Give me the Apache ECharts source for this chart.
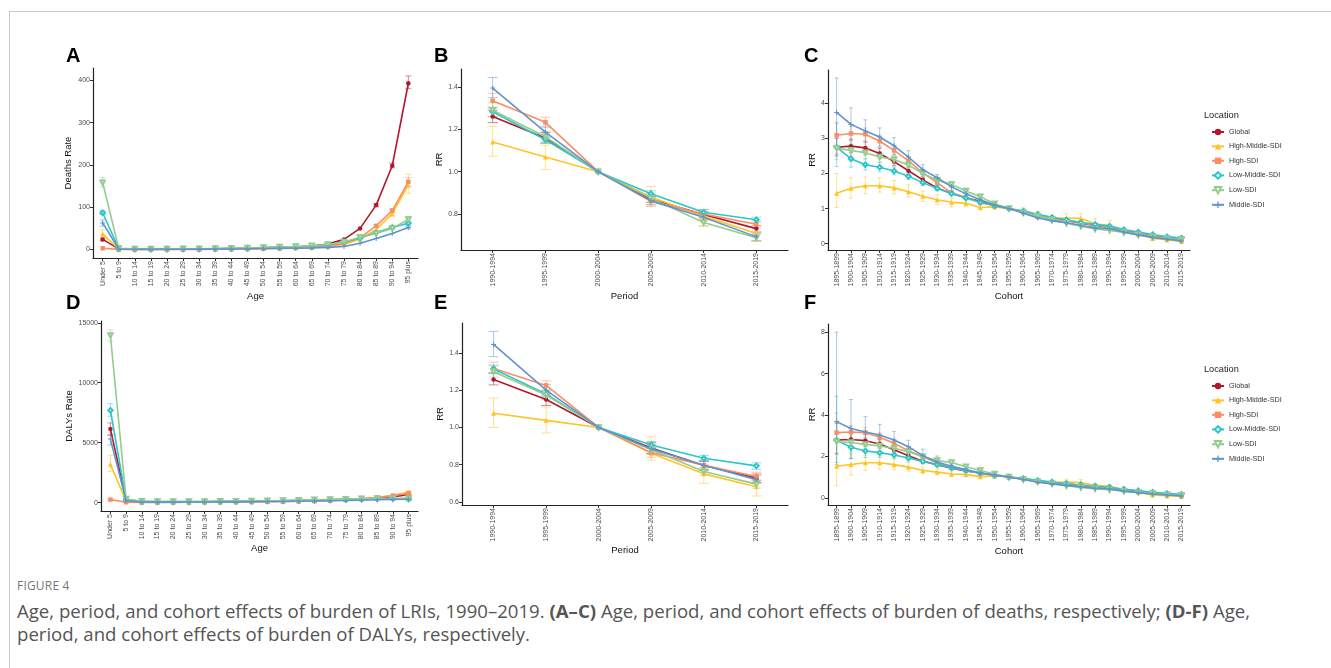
<!DOCTYPE html>
<html>
<head>
<meta charset="utf-8">
<script src="https://cdn.jsdelivr.net/npm/echarts@6/dist/echarts.min.js"></script>
<style>
html, body { margin: 0; padding: 0; background: #fff; }
#wrap { position: relative; width: 1331px; height: 668px; overflow: hidden; }
.frame { position: absolute; left: 9px; top: 11px; right: -2px; bottom: -2px; border-top: 1px solid #c8c8c8; border-left: 1px solid #c8c8c8; }
#chart { position: absolute; left: 0; top: 0; width: 1331px; height: 565px; }
#caption { position: absolute; left: 17px; top: 577px; width: 1275px; font-family: "Open Sans", "Noto Sans", sans-serif; color: #555; }
#caption .fig { font-size: 12px; color: #777; letter-spacing: 0.2px; margin-bottom: 5px; }
#caption .txt { font-size: 18.6px; line-height: 23px; }
</style>
</head>
<body>
<div id="wrap">
  <div class="frame"></div>
  <div id="chart"></div>
  <div id="caption">
    <div class="fig">FIGURE 4</div>
    <div class="txt">Age, period, and cohort effects of burden of LRIs, 1990–2019. <b>(A–C)</b> Age, period, and cohort effects of burden of deaths, respectively; <b>(D-F)</b> Age, period, and cohort effects of burden of DALYs, respectively.</div>
  </div>
</div>
<script>
// 地区 / 颜色
var locations = ['Global', 'High-Middle-SDI', 'High-SDI', 'Low-Middle-SDI', 'Low-SDI', 'Middle-SDI'];
var colors = ['#B2182B', '#FFC425', '#FC8D62', '#2CC6C9', '#94CC8F', '#5E95D0'];

var ageGroups = ['Under 5', '5 to 9', '10 to 14', '15 to 19', '20 to 24', '25 to 29', '30 to 34', '35 to 39',
    '40 to 44', '45 to 49', '50 to 54', '55 to 59', '60 to 64', '65 to 69', '70 to 74', '75 to 79',
    '80 to 84', '85 to 89', '90 to 94', '95 plus'];
var periods = ['1990-1994', '1995-1999', '2000-2004', '2005-2009', '2010-2014', '2015-2019'];
var cohorts = ['1895-1899', '1900-1904', '1905-1909', '1910-1914', '1915-1919', '1920-1924', '1925-1929',
    '1930-1934', '1935-1939', '1940-1944', '1945-1949', '1950-1954', '1955-1959', '1960-1964', '1965-1969',
    '1970-1974', '1975-1979', '1980-1984', '1985-1989', '1990-1994', '1995-1999', '2000-2004', '2005-2009',
    '2010-2014', '2015-2019'];

// A: deaths rate by age (rows follow locations)
var ageDeaths = [
    [24, 1.5, 0.8, 0.8, 1, 1.2, 1.5, 2, 2.5, 3, 4, 5, 6, 8, 13, 24, 50, 105, 198, 393],
    [37, 0.8, 0.4, 0.4, 0.5, 0.6, 0.8, 1, 1.3, 1.8, 2.5, 3, 4, 5, 7, 12, 25, 47, 85, 152],
    [3, 0.3, 0.2, 0.2, 0.3, 0.4, 0.5, 0.7, 1, 1.4, 2, 3, 4, 5, 8, 14, 28, 56, 92, 160],
    [87, 2, 1, 1, 1.2, 1.5, 1.8, 2.2, 2.8, 3.5, 4.5, 5.5, 6.5, 8, 11, 18, 27, 40, 52, 62],
    [158, 3, 1.5, 1.2, 1.3, 1.6, 2, 2.5, 3, 3.8, 4.8, 6, 7, 9, 12, 18, 29, 38, 50, 71],
    [63, 1.2, 0.6, 0.5, 0.6, 0.7, 0.9, 1.1, 1.4, 1.8, 2.3, 2.8, 3.2, 3.8, 5, 7, 15, 26, 38, 52]
];
// [location, category, lower, upper]
var ageDeathsErr = [
    [0, 0, 21, 27], [0, 17, 101, 108], [0, 18, 193, 204], [0, 19, 380, 410],
    [1, 0, 30, 47], [1, 17, 42, 52], [1, 18, 78, 95], [1, 19, 133, 178],
    [2, 17, 52, 59], [2, 18, 88, 96], [2, 19, 150, 170],
    [3, 0, 83, 92], [3, 18, 49, 55], [3, 19, 57, 67],
    [4, 0, 148, 170], [4, 18, 47, 53], [4, 19, 64, 78],
    [5, 0, 55, 70], [5, 19, 49, 55]
];

// B: period RR, deaths
var periodDeaths = [
    [1.261, 1.159, 1.0, 0.871, 0.798, 0.731],
    [1.140, 1.069, 1.0, 0.880, 0.790, 0.708],
    [1.335, 1.233, 1.0, 0.860, 0.800, 0.752],
    [1.283, 1.151, 1.0, 0.896, 0.808, 0.773],
    [1.290, 1.165, 1.0, 0.875, 0.760, 0.688],
    [1.395, 1.187, 1.0, 0.862, 0.785, 0.692]
];
var periodDeathsErr = [
    [0, 0, 1.232, 1.29], [0, 1, 1.135, 1.185], [0, 3, 0.855, 0.885], [0, 4, 0.785, 0.81], [0, 5, 0.715, 0.745],
    [1, 0, 1.073, 1.213], [1, 1, 1.01, 1.125], [1, 3, 0.84, 0.93], [1, 4, 0.74, 0.82], [1, 5, 0.67, 0.745],
    [2, 0, 1.30, 1.37], [2, 1, 1.208, 1.258], [2, 3, 0.835, 0.88], [2, 4, 0.78, 0.82], [2, 5, 0.735, 0.77],
    [3, 0, 1.26, 1.305], [3, 1, 1.135, 1.165], [3, 3, 0.88, 0.91], [3, 4, 0.795, 0.822], [3, 5, 0.762, 0.785],
    [4, 0, 1.26, 1.325], [4, 1, 1.14, 1.19], [4, 3, 0.855, 0.895], [4, 4, 0.745, 0.775], [4, 5, 0.672, 0.705],
    [5, 0, 1.35, 1.445], [5, 1, 1.16, 1.215], [5, 3, 0.845, 0.88], [5, 4, 0.77, 0.8], [5, 5, 0.675, 0.71]
];

// C: cohort RR, deaths
var cohortDeaths = [
    [2.75, 2.78, 2.73, 2.57, 2.34, 2.08, 1.82, 1.59, 1.43, 1.31, 1.21, 1.10, 1.00, 0.90, 0.79, 0.71, 0.66, 0.58, 0.52, 0.47, 0.38, 0.31, 0.22, 0.16, 0.11],
    [1.44, 1.58, 1.65, 1.65, 1.59, 1.48, 1.35, 1.25, 1.18, 1.15, 1.03, 1.05, 1.00, 0.93, 0.80, 0.72, 0.73, 0.72, 0.57, 0.52, 0.38, 0.27, 0.15, 0.11, 0.06],
    [3.09, 3.14, 3.12, 2.92, 2.66, 2.36, 2.02, 1.74, 1.45, 1.32, 1.17, 1.08, 1.00, 0.90, 0.78, 0.70, 0.66, 0.60, 0.53, 0.48, 0.37, 0.30, 0.22, 0.15, 0.10],
    [2.75, 2.42, 2.25, 2.18, 2.07, 1.92, 1.74, 1.58, 1.43, 1.30, 1.18, 1.08, 1.00, 0.93, 0.84, 0.75, 0.68, 0.60, 0.55, 0.50, 0.40, 0.33, 0.26, 0.20, 0.16],
    [2.72, 2.66, 2.59, 2.47, 2.40, 2.24, 2.00, 1.81, 1.69, 1.50, 1.34, 1.14, 1.00, 0.88, 0.78, 0.68, 0.58, 0.50, 0.42, 0.38, 0.32, 0.25, 0.20, 0.15, 0.12],
    [3.74, 3.40, 3.21, 3.04, 2.79, 2.47, 2.11, 1.88, 1.62, 1.42, 1.25, 1.10, 1.00, 0.87, 0.73, 0.65, 0.60, 0.52, 0.45, 0.43, 0.33, 0.25, 0.18, 0.13, 0.08]
];
var cohortDeathsErr = [
    [0, 0, 2.5, 3.0], [0, 1, 2.6, 2.98], [0, 2, 2.55, 2.9], [0, 3, 2.42, 2.72], [0, 4, 2.22, 2.46], [0, 5, 1.98, 2.18], [0, 6, 1.74, 1.9], [0, 7, 1.53, 1.65],
    [1, 0, 1.03, 2.0], [1, 1, 1.3, 1.88], [1, 2, 1.43, 1.9], [1, 3, 1.47, 1.88], [1, 4, 1.42, 1.8], [1, 5, 1.33, 1.68], [1, 6, 1.2, 1.5], [1, 7, 1.12, 1.4],
    [1, 8, 1.05, 1.3], [1, 9, 1.05, 1.27], [1, 10, 0.96, 1.12], [1, 11, 0.98, 1.12], [1, 13, 0.85, 1.02], [1, 14, 0.7, 0.9], [1, 15, 0.65, 0.8],
    [1, 16, 0.6, 0.85], [1, 17, 0.6, 0.86], [1, 18, 0.48, 0.72], [1, 19, 0.42, 0.66], [1, 20, 0.33, 0.44], [1, 21, 0.23, 0.31],
    [2, 0, 2.78, 3.42], [2, 1, 2.95, 3.35], [2, 2, 2.95, 3.3], [2, 3, 2.78, 3.07], [2, 4, 2.52, 2.8], [2, 5, 2.25, 2.48], [2, 6, 1.93, 2.1], [2, 7, 1.67, 1.82], [2, 8, 1.4, 1.5],
    [3, 0, 2.2, 3.46], [3, 1, 2.18, 2.66], [3, 2, 2.1, 2.42], [3, 3, 2.05, 2.32], [3, 4, 1.96, 2.18], [3, 5, 1.83, 2.02], [3, 6, 1.66, 1.82], [3, 7, 1.52, 1.65],
    [4, 0, 2.4, 3.1], [4, 1, 2.45, 2.87], [4, 2, 2.42, 2.76], [4, 3, 2.32, 2.62], [4, 4, 2.27, 2.53], [4, 5, 2.12, 2.36], [4, 6, 1.9, 2.1], [4, 7, 1.72, 1.9],
    [4, 8, 1.6, 1.78], [4, 9, 1.42, 1.58], [4, 10, 1.27, 1.41],
    [5, 0, 2.55, 4.72], [5, 1, 2.95, 3.87], [5, 2, 2.9, 3.53], [5, 3, 2.75, 3.3], [5, 4, 2.55, 3.02], [5, 5, 2.3, 2.65], [5, 6, 1.98, 2.25], [5, 7, 1.78, 1.97],
    [5, 8, 1.53, 1.7], [5, 9, 1.36, 1.5], [5, 10, 1.2, 1.3]
];

// D: DALYs rate by age
var ageDalys = [
    [6150, 180, 60, 50, 55, 60, 70, 80, 95, 110, 130, 150, 175, 200, 230, 270, 320, 400, 500, 650],
    [3200, 120, 40, 35, 35, 40, 45, 55, 65, 80, 95, 110, 130, 150, 180, 230, 300, 430, 620, 880],
    [250, 30, 15, 15, 20, 25, 30, 40, 50, 60, 75, 90, 110, 140, 170, 220, 300, 420, 580, 780],
    [7700, 250, 100, 80, 80, 85, 90, 100, 110, 125, 140, 160, 190, 220, 250, 280, 300, 320, 320, 300],
    [13950, 300, 120, 90, 85, 90, 95, 105, 115, 130, 150, 170, 200, 230, 260, 290, 320, 340, 350, 350],
    [5300, 150, 50, 40, 40, 45, 50, 55, 65, 75, 90, 100, 115, 130, 150, 170, 200, 240, 270, 280]
];
var ageDalysErr = [
    [0, 0, 5600, 6650], [0, 19, 560, 740],
    [1, 0, 2600, 3950], [1, 19, 780, 1000],
    [2, 0, 200, 300], [2, 19, 700, 860],
    [3, 0, 7200, 8250], [3, 19, 230, 380],
    [4, 0, 13450, 14400], [4, 19, 250, 450],
    [5, 0, 4800, 5700], [5, 19, 150, 400]
];

// E: period RR, DALYs
var periodDalys = [
    [1.257, 1.150, 1.0, 0.890, 0.796, 0.728],
    [1.076, 1.038, 1.0, 0.862, 0.751, 0.682],
    [1.316, 1.225, 1.0, 0.865, 0.797, 0.737],
    [1.313, 1.179, 1.0, 0.906, 0.835, 0.794],
    [1.298, 1.174, 1.0, 0.880, 0.764, 0.696],
    [1.445, 1.200, 1.0, 0.885, 0.797, 0.720]
];
var periodDalysErr = [
    [0, 0, 1.228, 1.29], [0, 1, 1.118, 1.18], [0, 3, 0.86, 0.92], [0, 4, 0.77, 0.82], [0, 5, 0.705, 0.75],
    [1, 0, 1.0, 1.157], [1, 1, 0.97, 1.11], [1, 3, 0.825, 0.95], [1, 4, 0.70, 0.80], [1, 5, 0.632, 0.72],
    [2, 0, 1.29, 1.35], [2, 1, 1.20, 1.25], [2, 3, 0.84, 0.89], [2, 4, 0.775, 0.82], [2, 5, 0.715, 0.76],
    [3, 0, 1.295, 1.335], [3, 1, 1.165, 1.195], [3, 3, 0.89, 0.925], [3, 4, 0.818, 0.85], [3, 5, 0.775, 0.81],
    [4, 0, 1.27, 1.33], [4, 1, 1.15, 1.2], [4, 3, 0.855, 0.905], [4, 4, 0.745, 0.785], [4, 5, 0.675, 0.715],
    [5, 0, 1.38, 1.515], [5, 1, 1.17, 1.23], [5, 3, 0.86, 0.91], [5, 4, 0.775, 0.82], [5, 5, 0.7, 0.74]
];

// F: cohort RR, DALYs
var cohortDalys = [
    [2.79, 2.82, 2.76, 2.60, 2.32, 2.03, 1.77, 1.60, 1.43, 1.30, 1.20, 1.10, 1.00, 0.90, 0.80, 0.72, 0.67, 0.59, 0.53, 0.48, 0.39, 0.32, 0.23, 0.17, 0.12],
    [1.52, 1.61, 1.69, 1.69, 1.60, 1.48, 1.32, 1.24, 1.15, 1.13, 1.02, 1.05, 1.00, 0.94, 0.82, 0.74, 0.76, 0.74, 0.60, 0.55, 0.38, 0.25, 0.13, 0.10, 0.06],
    [3.15, 3.18, 3.15, 2.92, 2.63, 2.27, 1.98, 1.68, 1.45, 1.32, 1.17, 1.08, 1.00, 0.90, 0.78, 0.70, 0.66, 0.60, 0.53, 0.48, 0.37, 0.30, 0.22, 0.16, 0.11],
    [2.78, 2.44, 2.26, 2.18, 2.07, 1.92, 1.76, 1.60, 1.45, 1.32, 1.20, 1.09, 1.00, 0.93, 0.84, 0.76, 0.69, 0.62, 0.56, 0.51, 0.41, 0.34, 0.27, 0.21, 0.17],
    [2.71, 2.67, 2.58, 2.50, 2.39, 2.23, 1.98, 1.80, 1.70, 1.50, 1.32, 1.15, 1.00, 0.88, 0.77, 0.68, 0.58, 0.50, 0.43, 0.39, 0.32, 0.26, 0.20, 0.15, 0.12],
    [3.68, 3.35, 3.18, 3.03, 2.79, 2.47, 2.03, 1.73, 1.52, 1.36, 1.20, 1.10, 1.00, 0.88, 0.75, 0.67, 0.60, 0.52, 0.46, 0.42, 0.32, 0.25, 0.18, 0.13, 0.09]
];
var cohortDalysErr = [
    [0, 0, 2.15, 3.6], [0, 1, 2.45, 3.2], [0, 2, 2.5, 3.05], [0, 3, 2.4, 2.82], [0, 4, 2.15, 2.5], [0, 5, 1.9, 2.17], [0, 6, 1.68, 1.87],
    [1, 0, 0.6, 2.1], [1, 1, 1.1, 2.1], [1, 2, 1.33, 2.05], [1, 3, 1.38, 2.02], [1, 4, 1.35, 1.88], [1, 5, 1.28, 1.7], [1, 6, 1.15, 1.5], [1, 7, 1.1, 1.4],
    [1, 8, 1.02, 1.28], [1, 9, 1.02, 1.25], [1, 10, 0.93, 1.1], [1, 11, 0.98, 1.12], [1, 13, 0.86, 1.02], [1, 14, 0.72, 0.9], [1, 15, 0.66, 0.82],
    [1, 16, 0.63, 0.9], [1, 17, 0.62, 0.88], [1, 18, 0.5, 0.7], [1, 19, 0.45, 0.64],
    [2, 0, 2.7, 3.7], [2, 1, 2.85, 3.5], [2, 2, 2.9, 3.4], [2, 3, 2.72, 3.12], [2, 4, 2.48, 2.8], [2, 5, 2.15, 2.4], [2, 6, 1.88, 2.08],
    [3, 0, 1.7, 4.9], [3, 1, 1.9, 3.1], [3, 2, 1.95, 2.6], [3, 3, 1.95, 2.42], [3, 4, 1.9, 2.25], [3, 5, 1.78, 2.07], [3, 6, 1.65, 1.88], [3, 7, 1.5, 1.7],
    [4, 0, 2.1, 4.1], [4, 1, 2.2, 3.1], [4, 2, 2.25, 2.9], [4, 3, 2.25, 2.75], [4, 4, 2.2, 2.58], [4, 5, 2.08, 2.38], [4, 6, 1.85, 2.1], [4, 7, 1.7, 1.9],
    [4, 8, 1.6, 1.8], [4, 9, 1.42, 1.58],
    [5, 0, 1.6, 8.0], [5, 1, 1.9, 4.75], [5, 2, 2.5, 3.92], [5, 3, 2.55, 3.55], [5, 4, 2.4, 3.2], [5, 5, 2.2, 2.78], [5, 6, 1.8, 2.35], [5, 7, 1.6, 2.02],
    [5, 8, 1.4, 1.65], [5, 9, 1.28, 1.45]
];

var FONT = '"Liberation Sans", Arial, sans-serif';
var plusPath = 'path://M4,0h2v4h4v2h-4v4h-2v-4h-4v-2h4z';
var symbols = ['circle', 'triangle', 'rect', 'emptyDiamond', 'emptyTriangle', plusPath];
var symbolSizes = [4.5, 5, 4.5, 4.5, 4.5, 5];
var symbolRotates = [0, 0, 0, 0, 180, 0];

var panels = [
    {key: 'A', cats: ageGroups, mean: ageDeaths, err: ageDeathsErr, xName: 'Age', yName: 'Deaths Rate',
        yMin: -20, yMax: 429, yTicks: [0, 100, 200, 300, 400], dec: 0, cap: 6,
        grid: [93, 68, 325, 190], yGap: 20, xGap: 33, letter: [66, 56]},
    {key: 'B', cats: periods, mean: periodDeaths, err: periodDeathsErr, xName: 'Period', yName: 'RR',
        yMin: 0.63, yMax: 1.485, yTicks: [0.8, 1.0, 1.2, 1.4], dec: 1, cap: 10,
        grid: [461, 69, 327, 181], yGap: 15, xGap: 41, letter: [434, 56]},
    {key: 'C', cats: cohorts, mean: cohortDeaths, err: cohortDeathsErr, xName: 'Cohort', yName: 'RR',
        yMin: -0.18, yMax: 4.95, yTicks: [0, 1, 2, 3, 4], dec: 0, cap: 4,
        grid: [828, 70, 362, 180], yGap: 11, xGap: 41, letter: [804, 56]},
    {key: 'D', cats: ageGroups, mean: ageDalys, err: ageDalysErr, xName: 'Age', yName: 'DALYs Rate',
        yMin: -700, yMax: 15150, yTicks: [0, 5000, 10000, 15000], dec: 0, cap: 6,
        grid: [101, 321, 317, 190], yGap: 26, xGap: 32, letter: [66, 303]},
    {key: 'E', cats: periods, mean: periodDalys, err: periodDalysErr, xName: 'Period', yName: 'RR',
        yMin: 0.584, yMax: 1.56, yTicks: [0.6, 0.8, 1.0, 1.2, 1.4], dec: 1, cap: 10,
        grid: [462, 323, 326, 182], yGap: 17, xGap: 40, letter: [434, 303]},
    {key: 'F', cats: cohorts, mean: cohortDalys, err: cohortDalysErr, xName: 'Cohort', yName: 'RR',
        yMin: -0.35, yMax: 8.4, yTicks: [0, 2, 4, 6, 8], dec: 0, cap: 4,
        grid: [828, 324, 362, 181], yGap: 11, xGap: 41, letter: [804, 303]}
];

var errRender = function (cap, color) {
    return function (params, api) {
        var x = api.value(0);
        var lo = api.coord([x, api.value(1)]);
        var hi = api.coord([x, api.value(2)]);
        var st = function () {
            return {stroke: color, lineWidth: 1, opacity: 0.5};
        };
        return {
            type: 'group',
            children: [
                {type: 'line', shape: {x1: lo[0], y1: lo[1], x2: hi[0], y2: hi[1]}, style: st()},
                {type: 'line', shape: {x1: lo[0] - cap / 2, y1: lo[1], x2: lo[0] + cap / 2, y2: lo[1]}, style: st()},
                {type: 'line', shape: {x1: hi[0] - cap / 2, y1: hi[1], x2: hi[0] + cap / 2, y2: hi[1]}, style: st()}
            ]
        };
    };
};

var grids = [], xAxes = [], yAxes = [], series = [], graphics = [];

panels.forEach(function (p, i) {
    var idx = p.cats.map(function (c, k) { return k; });
    grids.push({left: p.grid[0], top: p.grid[1], width: p.grid[2], height: p.grid[3]});
    xAxes.push({
        type: 'value', gridIndex: i, min: -0.6, max: p.cats.length - 0.4,
        name: p.xName, nameLocation: 'middle', nameGap: p.xGap,
        nameTextStyle: {fontSize: 9.5, color: '#111', fontFamily: FONT},
        axisLine: {show: true, onZero: false, lineStyle: {color: '#222', width: 1.2}},
        axisTick: {show: true, customValues: idx, length: 3, lineStyle: {color: '#333'}},
        axisLabel: {
            customValues: idx, rotate: 90, fontSize: 7, color: '#4d4d4d', margin: 3, fontFamily: FONT,
            formatter: function (v) { return p.cats[Math.round(v)]; }
        },
        splitLine: {show: false}
    });
    yAxes.push({
        type: 'value', gridIndex: i, min: p.yMin, max: p.yMax,
        name: p.yName, nameLocation: 'middle', nameRotate: 90, nameGap: p.yGap,
        nameTextStyle: {fontSize: 9.5, color: '#111', fontFamily: FONT},
        axisLine: {show: true, onZero: false, lineStyle: {color: '#222', width: 1.2}},
        axisTick: {show: true, customValues: p.yTicks, length: 3, lineStyle: {color: '#333'}},
        axisLabel: {
            customValues: p.yTicks, fontSize: 7, color: '#4d4d4d', margin: 3, fontFamily: FONT,
            formatter: function (v) { return v.toFixed(p.dec); }
        },
        splitLine: {show: false}
    });
    locations.forEach(function (loc, j) {
        var errs = p.err.filter(function (e) { return e[0] === j; }).map(function (e) { return [e[1], e[2], e[3]]; });
        if (errs.length) {
            series.push({
                type: 'custom', name: loc + ' CI', xAxisIndex: i, yAxisIndex: i,
                data: errs, renderItem: errRender(p.cap, colors[j]), z: 1, silent: true
            });
        }
        series.push({
            type: 'line', name: loc, xAxisIndex: i, yAxisIndex: i, z: 3 + j,
            data: p.mean[j].map(function (v, k) { return [k, v]; }),
            symbol: symbols[j], symbolSize: symbolSizes[j], symbolRotate: symbolRotates[j],
            showSymbol: true,
            lineStyle: {color: colors[j], width: 1.6},
            itemStyle: {color: colors[j], borderWidth: j === 3 || j === 4 ? 1 : 0, borderColor: colors[j]}
        });
    });
    graphics.push({
        type: 'text', x: p.letter[0], y: p.letter[1],
        style: {text: p.key, font: 'bold 20px ' + FONT, fill: '#000', textVerticalAlign: 'middle'}
    });
});

graphics.push({type: 'text', x: 1204, y: 115, style: {text: 'Location', font: '9.2px ' + FONT, fill: '#222', textVerticalAlign: 'middle'}});
graphics.push({type: 'text', x: 1204, y: 369, style: {text: 'Location', font: '9.2px ' + FONT, fill: '#222', textVerticalAlign: 'middle'}});

var legendBase = {
    data: locations, orient: 'vertical', left: 1206, itemWidth: 12, itemHeight: 8, itemGap: 6.4,
    selectedMode: false, textStyle: {fontSize: 7.2, color: '#333', fontFamily: FONT, lineHeight: 8}
};

var chart = echarts.init(document.getElementById('chart'));
chart.setOption({
    animation: false,
    textStyle: {fontFamily: FONT},
    grid: grids,
    xAxis: xAxes,
    yAxis: yAxes,
    legend: [
        Object.assign({}, legendBase, {top: 123}),
        Object.assign({}, legendBase, {top: 377})
    ],
    graphic: graphics,
    series: series
});
</script>
</body>
</html>
